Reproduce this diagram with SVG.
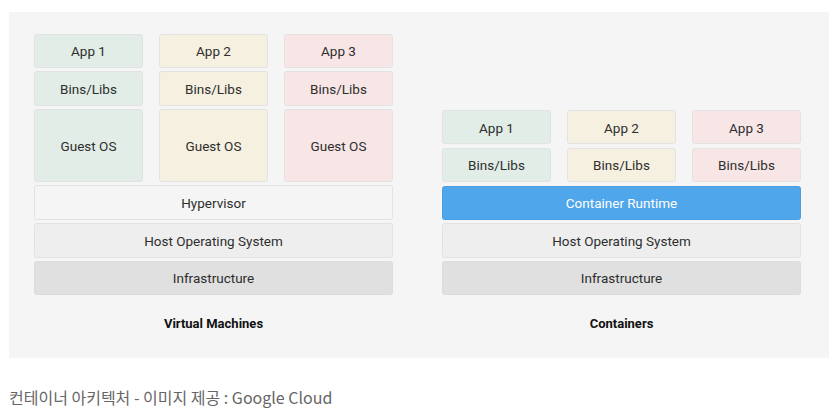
<svg xmlns="http://www.w3.org/2000/svg" width="838" height="418" viewBox="0 0 838 418">
<style>
.b{stroke:#e2e2e2;stroke-width:1}
.g{fill:#e1ede6}
.y{fill:#f6f0e0}
.p{fill:#f8e6e6}
.hv{fill:#f5f5f5}
.ho{fill:#eeeeee}
.inf{fill:#e0e0e0;stroke:#dcdcdc}
.cr{fill:#50a6ea;stroke:#4a9fe2}
text{font-family:Roboto,"Liberation Sans",sans-serif;font-size:13.5px;fill:#2e2e2e;text-anchor:middle}
.w{fill:#ffffff}
.h{font-weight:bold;font-size:13px;fill:#111}
.cap{font-family:"Noto Sans CJK KR","Noto Sans",sans-serif;font-size:16px;fill:#666;text-anchor:start}
</style>
<rect x="0" y="0" width="838" height="418" fill="#ffffff"/>
<rect x="9" y="12" width="820" height="346" fill="#f5f5f5"/>
<g id="vm">
<g id="vm-app1"><rect class="b g" x="34.5" y="34.5" width="108" height="33" rx="2"/><text x="88.5" y="56">App 1</text></g>
<g id="vm-bins1"><rect class="b g" x="34.5" y="71.5" width="108" height="34" rx="2"/><text x="88.5" y="93.5">Bins/Libs</text></g>
<g id="vm-os1"><rect class="b g" x="34.5" y="109.5" width="108" height="72" rx="2"/><text x="88.5" y="150.5">Guest OS</text></g>
<g id="vm-app2"><rect class="b y" x="159.5" y="34.5" width="108" height="33" rx="2"/><text x="213.5" y="56">App 2</text></g>
<g id="vm-bins2"><rect class="b y" x="159.5" y="71.5" width="108" height="34" rx="2"/><text x="213.5" y="93.5">Bins/Libs</text></g>
<g id="vm-os2"><rect class="b y" x="159.5" y="109.5" width="108" height="72" rx="2"/><text x="213.5" y="150.5">Guest OS</text></g>
<g id="vm-app3"><rect class="b p" x="284.5" y="34.5" width="108" height="33" rx="2"/><text x="338.5" y="56">App 3</text></g>
<g id="vm-bins3"><rect class="b p" x="284.5" y="71.5" width="108" height="34" rx="2"/><text x="338.5" y="93.5">Bins/Libs</text></g>
<g id="vm-os3"><rect class="b p" x="284.5" y="109.5" width="108" height="72" rx="2"/><text x="338.5" y="150.5">Guest OS</text></g>
<g id="vm-hyp"><rect class="b hv" x="34.5" y="185.5" width="358" height="34" rx="2"/><text x="213.5" y="207.5">Hypervisor</text></g>
<g id="vm-host"><rect class="b ho" x="34.5" y="223.5" width="358" height="34" rx="2"/><text x="213.5" y="245.5">Host Operating System</text></g>
<g id="vm-infra"><rect class="b inf" x="34.5" y="261.5" width="358" height="33" rx="2"/><text x="213.5" y="283">Infrastructure</text></g>
<text class="h" x="213.5" y="327.5">Virtual Machines</text>
</g>
<g id="ct">
<g id="ct-app1"><rect class="b g" x="442.5" y="110.5" width="108" height="33" rx="2"/><text x="496.5" y="132.5">App 1</text></g>
<g id="ct-bins1"><rect class="b g" x="442.5" y="148.5" width="108" height="33" rx="2"/><text x="496.5" y="170">Bins/Libs</text></g>
<g id="ct-app2"><rect class="b y" x="567.5" y="110.5" width="108" height="33" rx="2"/><text x="621.5" y="132.5">App 2</text></g>
<g id="ct-bins2"><rect class="b y" x="567.5" y="148.5" width="108" height="33" rx="2"/><text x="621.5" y="170">Bins/Libs</text></g>
<g id="ct-app3"><rect class="b p" x="692.5" y="110.5" width="108" height="33" rx="2"/><text x="746.5" y="132.5">App 3</text></g>
<g id="ct-bins3"><rect class="b p" x="692.5" y="148.5" width="108" height="33" rx="2"/><text x="746.5" y="170">Bins/Libs</text></g>
<g id="ct-rt"><rect class="cr" x="442.5" y="186.5" width="358" height="33" rx="2"/><text class="w" x="621.5" y="208">Container Runtime</text></g>
<g id="ct-host"><rect class="b ho" x="442.5" y="223.5" width="358" height="34" rx="2"/><text x="621.5" y="245.5">Host Operating System</text></g>
<g id="ct-infra"><rect class="b inf" x="442.5" y="261.5" width="358" height="33" rx="2"/><text x="621.5" y="283">Infrastructure</text></g>
<text class="h" x="621.5" y="327.5">Containers</text>
</g>
<g id="connectors"></g>
<text class="cap" x="9" y="403.5">컨테이너 아키텍처 - 이미지 제공 : Google Cloud</text>
</svg>
